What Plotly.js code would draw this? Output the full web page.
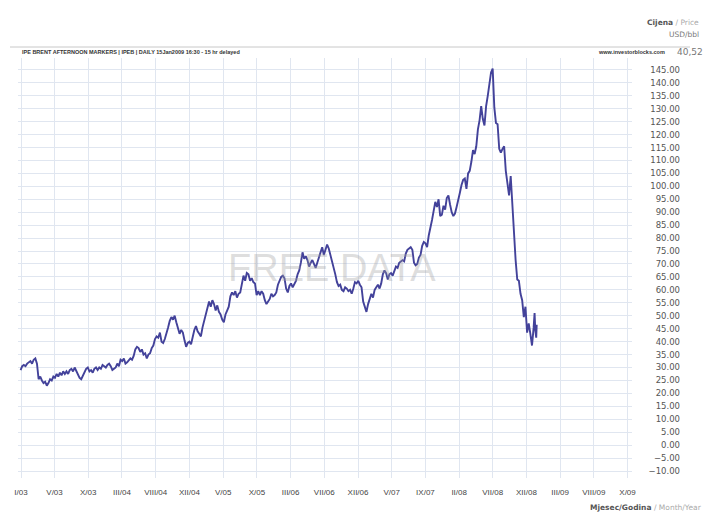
<!DOCTYPE html>
<html>
<head>
<meta charset="utf-8">
<script src="https://cdn.plot.ly/plotly-3.0.1.min.js"></script>
<style>
html,body{margin:0;padding:0;background:#fff;}
#chart{width:706px;height:515px;}
</style>
</head>
<body>
<div id="chart"></div>
<script>
// Brent price (USD/bbl), weekly readings from the picture
const dates2003 = ["2003-01-03","2003-01-10","2003-01-17","2003-01-24","2003-01-31","2003-02-07","2003-02-14","2003-02-21","2003-02-28",
"2003-03-07","2003-03-14","2003-03-21","2003-03-28","2003-04-04","2003-04-11","2003-04-18","2003-04-25","2003-05-02","2003-05-09",
"2003-05-16","2003-05-23","2003-05-30","2003-06-06","2003-06-13","2003-06-20","2003-06-27","2003-07-04","2003-07-11","2003-07-18",
"2003-07-25","2003-08-01","2003-08-08","2003-08-15","2003-08-22","2003-08-29","2003-09-05","2003-09-12","2003-09-19","2003-09-26",
"2003-10-03","2003-10-10","2003-10-17","2003-10-24","2003-10-31","2003-11-07","2003-11-14","2003-11-21","2003-11-28","2003-12-05",
"2003-12-12","2003-12-19","2003-12-26"];
const prices2003 = [29.0,30.5,31.0,30.5,31.5,32.0,32.5,31.5,33.0,
33.5,31.5,25.5,26.5,25.0,24.0,24.5,23.0,24.0,25.5,
25.0,26.5,26.0,27.5,26.5,28.0,27.0,28.5,27.5,28.5,
27.5,29.0,29.5,28.5,30.0,28.5,27.5,26.0,25.5,27.0,
28.5,29.5,30.0,28.5,29.0,28.0,29.5,30.0,29.0,30.0,
29.5,31.0,30.5];

const dates2004 = ["2004-01-02","2004-01-09","2004-01-16","2004-01-23","2004-01-30","2004-02-06","2004-02-13","2004-02-20","2004-02-27",
"2004-03-05","2004-03-12","2004-03-19","2004-03-26","2004-04-02","2004-04-09","2004-04-16","2004-04-23","2004-04-30","2004-05-07",
"2004-05-14","2004-05-21","2004-05-28","2004-06-04","2004-06-11","2004-06-18","2004-06-25","2004-07-02","2004-07-09","2004-07-16",
"2004-07-23","2004-07-30","2004-08-06","2004-08-13","2004-08-20","2004-08-27","2004-09-03","2004-09-10","2004-09-17","2004-09-24",
"2004-10-01","2004-10-08","2004-10-15","2004-10-22","2004-10-29","2004-11-05","2004-11-12","2004-11-19","2004-11-26","2004-12-03",
"2004-12-10","2004-12-17","2004-12-24","2004-12-31"];
const prices2004 = [30.0,31.0,31.5,30.5,29.0,29.5,30.0,31.5,30.5,
33.0,32.5,33.5,31.5,32.0,33.0,33.5,33.0,34.5,37.0,
38.0,37.5,36.0,37.0,35.0,35.5,33.5,35.0,35.5,37.5,
38.5,41.0,42.0,41.5,43.5,40.0,39.5,41.0,43.0,45.5,
48.0,49.5,48.5,50.0,47.5,45.0,43.0,44.5,43.5,40.5,
38.0,39.5,40.0,39.0];

const dates2005 = ["2005-01-07","2005-01-14","2005-01-21","2005-01-28","2005-02-04","2005-02-11","2005-02-18","2005-02-25",
"2005-03-04","2005-03-11","2005-03-18","2005-03-25","2005-04-01","2005-04-08","2005-04-15","2005-04-22","2005-04-29","2005-05-06",
"2005-05-13","2005-05-20","2005-05-27","2005-06-03","2005-06-10","2005-06-17","2005-06-24","2005-07-01","2005-07-08","2005-07-15",
"2005-07-22","2005-07-29","2005-08-05","2005-08-12","2005-08-19","2005-08-26","2005-09-02","2005-09-09","2005-09-16","2005-09-23",
"2005-09-30","2005-10-07","2005-10-14","2005-10-21","2005-10-28","2005-11-04","2005-11-11","2005-11-18","2005-11-25","2005-12-02",
"2005-12-09","2005-12-16","2005-12-23","2005-12-30"];
const prices2005 = [42.0,44.5,46.0,44.0,43.0,42.0,45.5,48.0,
51.0,52.5,55.5,53.5,56.0,54.5,52.0,54.0,51.5,50.5,
48.5,47.5,50.5,52.0,53.5,57.5,59.0,58.0,59.5,57.0,
58.5,59.0,62.0,65.5,63.5,66.5,66.0,63.5,64.5,63.0,
62.5,58.0,59.5,58.0,59.5,58.5,56.0,54.5,55.5,56.5,
58.5,57.5,58.0,59.0];

const dates2006 = ["2006-01-06","2006-01-13","2006-01-20","2006-01-27","2006-02-03","2006-02-10","2006-02-17","2006-02-24",
"2006-03-03","2006-03-10","2006-03-17","2006-03-24","2006-03-31","2006-04-07","2006-04-14","2006-04-21","2006-04-28","2006-05-05",
"2006-05-12","2006-05-19","2006-05-26","2006-06-02","2006-06-09","2006-06-16","2006-06-23","2006-06-30","2006-07-07","2006-07-14",
"2006-07-21","2006-07-28","2006-08-04","2006-08-11","2006-08-18","2006-08-25","2006-09-01","2006-09-08","2006-09-15","2006-09-22",
"2006-09-29","2006-10-06","2006-10-13","2006-10-20","2006-10-27","2006-11-03","2006-11-10","2006-11-17","2006-11-24","2006-12-01",
"2006-12-08","2006-12-15","2006-12-22","2006-12-29"];
const prices2006 = [62.0,63.5,65.0,65.5,64.5,60.5,59.0,61.5,
62.5,61.0,62.5,63.5,66.0,67.5,70.5,74.5,72.0,73.0,
71.5,69.0,70.5,71.5,70.0,68.5,70.5,73.0,74.5,76.5,
73.5,75.5,77.5,76.0,73.5,72.0,69.5,66.0,63.0,61.5,
62.0,60.0,59.5,61.0,60.5,59.5,60.0,58.5,60.5,63.0,
62.5,63.5,62.0,61.0];

const dates2007 = ["2007-01-05","2007-01-12","2007-01-19","2007-01-26","2007-02-02","2007-02-09","2007-02-16","2007-02-23",
"2007-03-02","2007-03-09","2007-03-16","2007-03-23","2007-03-30","2007-04-06","2007-04-13","2007-04-20","2007-04-27","2007-05-04",
"2007-05-11","2007-05-18","2007-05-25","2007-06-01","2007-06-08","2007-06-15","2007-06-22","2007-06-29","2007-07-06","2007-07-13",
"2007-07-20","2007-07-27","2007-08-03","2007-08-10","2007-08-17","2007-08-24","2007-08-31","2007-09-07","2007-09-14","2007-09-21",
"2007-09-28","2007-10-05","2007-10-12","2007-10-19","2007-10-26","2007-11-02","2007-11-09","2007-11-16","2007-11-23","2007-11-30",
"2007-12-07","2007-12-14","2007-12-21","2007-12-28"];
const prices2007 = [55.5,53.0,51.5,54.5,57.0,58.5,57.0,60.0,
61.0,62.0,60.5,62.5,66.0,67.5,66.5,64.0,66.0,66.5,
65.5,67.5,69.0,68.5,70.5,71.0,71.5,71.0,74.0,75.5,
76.0,76.5,75.5,70.5,69.5,70.0,72.5,73.5,77.0,78.5,
78.0,76.5,81.0,83.5,87.0,90.5,94.0,92.0,95.0,88.5,
89.0,92.5,91.0,95.5];

const dates2008 = ["2008-01-04","2008-01-11","2008-01-18","2008-01-25","2008-02-01","2008-02-08","2008-02-15","2008-02-22","2008-02-29",
"2008-03-07","2008-03-14","2008-03-21","2008-03-28","2008-04-04","2008-04-11","2008-04-18","2008-04-25","2008-05-02","2008-05-09",
"2008-05-16","2008-05-23","2008-05-30","2008-06-06","2008-06-13","2008-06-20","2008-06-27","2008-07-04","2008-07-11","2008-07-18",
"2008-07-25","2008-08-01","2008-08-08","2008-08-15","2008-08-22","2008-08-29","2008-09-05","2008-09-12","2008-09-19","2008-09-26",
"2008-10-03","2008-10-10","2008-10-17","2008-10-24","2008-10-31","2008-11-07","2008-11-14","2008-11-21","2008-11-28","2008-12-05",
"2008-12-12","2008-12-19","2008-12-26"];
const prices2008 = [96.5,93.0,90.0,88.5,89.5,92.0,95.5,97.5,100.5,
102.5,103.0,99.0,105.0,106.0,109.5,114.0,112.5,115.5,122.0,
125.5,131.0,126.0,123.5,131.0,135.0,139.5,144.0,145.5,130.5,
124.5,124.0,114.5,113.0,114.5,115.5,106.0,100.5,96.5,104.0,
93.0,79.0,71.5,64.0,63.5,58.5,56.0,49.5,53.5,43.5,
47.0,43.0,38.5];

const dates2009 = ["2009-01-02","2009-01-06","2009-01-09","2009-01-13","2009-01-15"];
const prices2009 = [45.5,51.0,44.5,41.5,46.5];

// y axis ticks
const yTicks = [-10,-5,0,5,10,15,20,25,30,35,40,45,50,55,60,65,70,75,80,85,90,95,100,105,110,115,120,125,130,135,140,145];
// x axis ticks (month/year labels)
const xTickDates = ["2003-01-05","2003-05-28","2003-10-19","2004-03-11","2004-08-02","2004-12-24","2005-05-17","2005-10-08","2006-03-01","2006-07-23",
"2006-12-14","2007-05-07","2007-09-28","2008-02-19","2008-07-11","2008-12-02","2009-04-25","2009-09-16","2010-02-07"];
const xTickLabels = ["I/03","V/03","X/03","III/04","VIII/04","XII/04","V/05","X/05","III/06","VII/06",
"XII/06","V/07","IX/07","II/08","VII/08","XII/08","III/09","VIII/09","X/09"];

const dates = [].concat(dates2003, dates2004, dates2005, dates2006, dates2007, dates2008, dates2009);
const prices = [].concat(prices2003, prices2004, prices2005, prices2006, prices2007, prices2008, prices2009);

const W = 706, H = 515;
const L = 18, R = 20, T = 58, B = 37;
const pw = W - L - R, ph = H - T - B;
const px = x => (x - L) / pw;
const py = y => (H - B - y) / ph;

const trace = {
  type: 'scatter', mode: 'lines',
  x: dates, y: prices,
  line: {color: '#43429a', width: 1.9},
  hoverinfo: 'skip'
};

const layout = {
  width: W, height: H,
  margin: {l: L, r: R, t: T, b: B, pad: 0},
  paper_bgcolor: '#ffffff', plot_bgcolor: '#ffffff',
  showlegend: false,
  xaxis: {
    type: 'date',
    domain: [0, px(632)],
    range: ['2002-12-23', '2010-02-26'],
    tickvals: xTickDates, ticktext: xTickLabels,
    tickangle: 0,
    showgrid: true, gridcolor: '#e0e6f0', gridwidth: 1,
    zeroline: false, showline: false, ticks: '',
    tickfont: {family: 'Liberation Sans, Arial, sans-serif', size: 8, color: '#444'},
    ticklabelstandoff: 8
  },
  yaxis: {
    range: [-12.7, 149.6],
    anchor: 'free', side: 'left', position: px(680),
    tickvals: yTicks, tickformat: '.2f',
    showgrid: true, gridcolor: '#e0e6f0', gridwidth: 1,
    zeroline: false, showline: false, ticks: '',
    tickfont: {family: 'DejaVu Sans, sans-serif', size: 8.5, color: '#555'}
  },
  shapes: [
    {type: 'line', xref: 'paper', yref: 'paper', x0: px(10), x1: px(690), y0: py(47), y1: py(47),
     line: {color: '#c8c8c8', width: 1}}
  ],
  annotations: [
    {text: 'FREE DATA', xref: 'paper', yref: 'paper', x: px(332), y: py(268), showarrow: false,
     font: {family: 'Liberation Sans, Arial, sans-serif', size: 38, color: 'rgba(160,160,160,0.35)'}},
    {text: '<b>IPE BRENT AFTERNOON MARKERS | IPEB | DAILY 15Jan2009 16:30 - 15 hr delayed</b>', xref: 'paper', yref: 'paper',
     x: px(20), y: py(52), xanchor: 'left', yanchor: 'middle', showarrow: false,
     font: {family: 'Liberation Sans, Arial, sans-serif', size: 5.5, color: '#333'}},
    {text: '<b>www.investorblocks.com</b>', xref: 'paper', yref: 'paper',
     x: px(667), y: py(52), xanchor: 'right', yanchor: 'middle', showarrow: false,
     font: {family: 'Liberation Sans, Arial, sans-serif', size: 5.5, color: '#333'}},
    {text: '40,52', xref: 'paper', yref: 'paper',
     x: px(705), y: py(52), xanchor: 'right', yanchor: 'middle', showarrow: false,
     font: {family: 'DejaVu Sans, sans-serif', size: 9, color: '#777'}},
    {text: '<b>Cijena</b> <span style="color:#aaa">/ Price</span>', xref: 'paper', yref: 'paper',
     x: px(701), y: py(22), xanchor: 'right', yanchor: 'middle', showarrow: false,
     font: {family: 'DejaVu Sans, sans-serif', size: 7.5, color: '#555'}},
    {text: 'USD/bbl', xref: 'paper', yref: 'paper',
     x: px(701), y: py(35), xanchor: 'right', yanchor: 'middle', showarrow: false,
     font: {family: 'DejaVu Sans, sans-serif', size: 7.5, color: '#777'}},
    {text: '<b>Mjesec/Godina</b> <span style="color:#aaa">/ Month/Year</span>', xref: 'paper', yref: 'paper',
     x: px(704), y: py(507), xanchor: 'right', yanchor: 'middle', showarrow: false,
     font: {family: 'DejaVu Sans, sans-serif', size: 7.5, color: '#555'}}
  ]
};

Plotly.newPlot('chart', [trace], layout, {staticPlot: true, displayModeBar: false});
</script>
</body>
</html>
